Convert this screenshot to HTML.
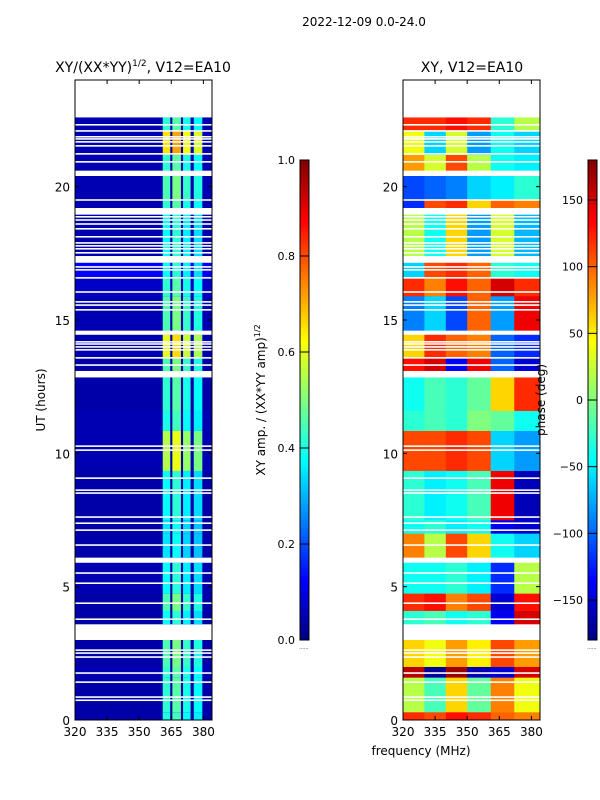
<!DOCTYPE html>
<html><head><meta charset="utf-8"><style>
html,body{margin:0;padding:0;background:#fff;}
svg{display:block;font-family:"DejaVu Sans","Liberation Sans",sans-serif;}
</style></head><body>
<svg id="fig" width="600" height="800" viewBox="0 0 600 800">
<rect width="600" height="800" fill="#fff"/>
<text x="364" y="26" font-size="12" text-anchor="middle">2022-12-09 0.0-24.0</text>
<text x="143" y="72" font-size="14" text-anchor="middle">XY/(XX*YY)<tspan font-size="9" dy="-6">1/2</tspan><tspan dy="6">, V12=EA10</tspan></text>
<text x="472" y="72" font-size="14" text-anchor="middle">XY, V12=EA10</text>
<g id="ampPlot"></g>
<g id="phasePlot"></g>
<g id="axes"></g>
<text transform="translate(45,400) rotate(-90)" font-size="12" text-anchor="middle">UT (hours)</text>
<text x="421" y="755" font-size="12" text-anchor="middle">frequency (MHz)</text>
<text transform="translate(265,400) rotate(-90)" font-size="12" text-anchor="middle">XY amp. / (XX*YY amp)<tspan font-size="8" dy="-5">1/2</tspan></text>
<text transform="translate(545,400) rotate(-90)" font-size="12" text-anchor="middle">phase (deg)</text>
</svg>
<script>
const gapStart=[22.6,20.4,18.95,17.15,14.45,12.85,5.9,3.0,22.29,22.06,21.84,21.76,21.65,21.5,21.2,20.9,19.47,18.84,18.72,18.57,18.39,18.09,17.86,17.75,17.64,17.49,16.96,16.85,16.55,16.02,15.65,15.53,15.35,14.15,14.07,13.96,13.85,13.55,13.28,10.24,10.09,9.04,8.59,8.48,7.58,7.35,7.09,6.53,5.48,5.1,4.35,3.75,2.59,2.48,2.33,1.73,1.39,0.83,0.71];
const gapLen=[1.4,0.2,0.25,0.25,0.15,0.2,0.15,0.55];
const bandStart=[0,0.3,1.6,2.0,3.6,4.1,4.75,6.1,7.0,7.5,9.35,10.85,11.6,13.1,13.6,14.6,15.9,16.6,17.4,19.2,19.5,20.6,21.2,22.1];
const bandEnd=  [0.3,1.6,2.0,3.0,4.1,4.75,5.9,7.0,7.5,9.35,10.85,11.6,12.85,13.6,14.45,15.9,16.6,17.15,19.0,19.5,20.4,21.2,22.1,22.6];
const chanEdges=[320,330,340,350,361,372,384];
const phaseRows=[
[120,110,130,120,100,90],
[20,-20,60,-10,90,40],
[160,-170,170,-160,-150,150],
[60,40,80,50,110,80],
[-30,-20,-40,-30,-140,150],
[120,130,90,110,-150,130],
[-40,-40,-30,-50,-120,20],
[90,20,110,60,-40,-60],
[-40,-30,-50,-40,-140,-150],
[-30,-50,-40,-20,140,-160],
[110,110,120,110,-60,-80],
[-30,-20,-30,0,-10,-40],
[-40,-20,-30,-10,60,120],
[130,150,-140,140,-100,-150],
[60,120,100,90,-100,-120],
[-90,-60,-110,100,-80,140],
[120,90,130,100,150,120],
[-60,110,120,100,-30,-40],
[20,-40,60,-80,30,-70],
[-120,110,120,60,100,90],
[-110,-100,-90,-60,-50,-30],
[80,30,110,20,-40,-50],
[40,-60,30,-80,-40,-60],
[120,120,130,120,-30,20]];
const ampLeft=[0.04,0.04,0.05,0.04,0.04,0.04,0.05,0.04,0.04,0.04,0.05,0.05,0.04,0.04,0.05,0.05,0.07,0.12,0.05,0.05,0.05,0.05,0.05,0.05];
const ampStripe=[0.4,0.42,0.42,0.45,0.38,0.45,0.38,0.35,0.35,0.38,0.55,0.4,0.42,0.45,0.6,0.45,0.42,0.38,0.38,0.42,0.45,0.42,0.65,0.42];
const stripeLo=[361,365.5,370.5,375.5];
const stripeHi=[364.5,369.5,374,379.5];
const stripeMul=[1.0,1.1,0.95,0.9];
const ampTicks=[0,0.2,0.4,0.6,0.8,1.0];
const phaseTicks=[-150,-100,-50,0,50,100,150];
const xTicks=[320,335,350,365,380];
const yTicks=[0,5,10,15,20];

const NS="http://www.w3.org/2000/svg";
const T=80,B=720,P1=75,P2=403,W=137;
const yOf=h=>B-(h/24)*(B-T);
const xOf=(x0,f)=>x0+(f-320)*2.14;
function jet(v){v=Math.max(0,Math.min(1,v));const c=t=>Math.round(255*Math.max(0,Math.min(1,1.5-Math.abs(4*v-t))));return `rgb(${c(3)},${c(2)},${c(1)})`;}
function rect(g,x,y,w,h,fill){const r=document.createElementNS(NS,'rect');r.setAttribute('x',x);r.setAttribute('y',y);r.setAttribute('width',w);r.setAttribute('height',h);r.setAttribute('fill',fill);g.appendChild(r);return r;}
function line(g,x1,y1,x2,y2,sw){const l=document.createElementNS(NS,'line');l.setAttribute('x1',x1);l.setAttribute('y1',y1);l.setAttribute('x2',x2);l.setAttribute('y2',y2);l.setAttribute('stroke','#000');l.setAttribute('stroke-width',sw||1);g.appendChild(l);return l;}
function text(g,x,y,s,anchor,size){const t=document.createElementNS(NS,'text');t.setAttribute('x',x);t.setAttribute('y',y);t.setAttribute('font-size',size||12);t.setAttribute('text-anchor',anchor||'middle');t.textContent=s;g.appendChild(t);return t;}
const ampG=document.getElementById('ampPlot'),phG=document.getElementById('phasePlot'),ax=document.getElementById('axes');
const xMax=320+W/2.14;
for(let i=0;i<bandStart.length;i++){
  const y1=yOf(bandEnd[i]),y0=yOf(bandStart[i]);
  for(let j=0;j<6;j++){
    const f0=chanEdges[j],f1=Math.min(chanEdges[j+1],xMax);
    const r=rect(phG,xOf(P2,f0),y1,xOf(P2,f1)-xOf(P2,f0)+0.3,y0-y1+0.3,jet((phaseRows[i][j]+180)/360));
    
    
  }
  const r=rect(ampG,P1,y1,W,y0-y1+0.3,jet(ampLeft[i]));
  
  
  for(let k=0;k<stripeLo.length;k++){
    const s=rect(ampG,xOf(P1,stripeLo[k]),y1,(stripeHi[k]-stripeLo[k])*2.14,y0-y1+0.3,jet(ampStripe[i]*stripeMul[k]));
    
    
  }
}
for(let i=0;i<gapStart.length;i++){
  const len=i<gapLen.length?gapLen[i]:0.06;
  [P1,P2].forEach(x0=>{const g=rect(ax,x0,yOf(gapStart[i]+len),W,yOf(gapStart[i])-yOf(gapStart[i]+len),'#fff');
    
    });
}
[P1,P2].forEach(x0=>{
  const fr=rect(ax,x0,T,W,B-T,'none');fr.setAttribute('stroke','#000');
  
  
  xTicks.forEach(f=>{const x=xOf(x0,f);line(ax,x,B,x,B-4);line(ax,x,T,x,T+4);
    const t=text(ax,x,B+16,String(f));
    
    });
  yTicks.forEach(h=>{const y=yOf(h);line(ax,x0,y,x0+4,y);line(ax,x0+W,y,x0+W-4,y);
    const t=text(ax,x0-5,y+5,String(h),'end');
    
    });
});
function colorbar(x,vmin,vmax,ticks,fmt,name){
  const g=document.createElementNS(NS,'g');
  
  
  ax.appendChild(g);
  const top=160,bot=640,n=120;
  for(let i=0;i<n;i++){rect(g,x,top+(bot-top)*(1-(i+1)/n),9,(bot-top)/n+0.5,jet((i+0.5)/n));}
  const fr=rect(g,x,top,9,bot-top,'none');fr.setAttribute('stroke','#000');
  ticks.forEach(v=>{const y=bot-(v-vmin)/(vmax-vmin)*(bot-top);line(g,x,y,x+9,y);
    const t=text(g,x-5,y+4,fmt(v),'end',11);
    
    });
  text(g,x+4,649,'......','middle',5);
}
colorbar(300,0,1,ampTicks,v=>v.toFixed(1),'amp-colorbar');
colorbar(588,-180,180,phaseTicks,v=>v<0?'\u2212'+(-v):String(v),'phase-colorbar');
</script>
</body></html>
